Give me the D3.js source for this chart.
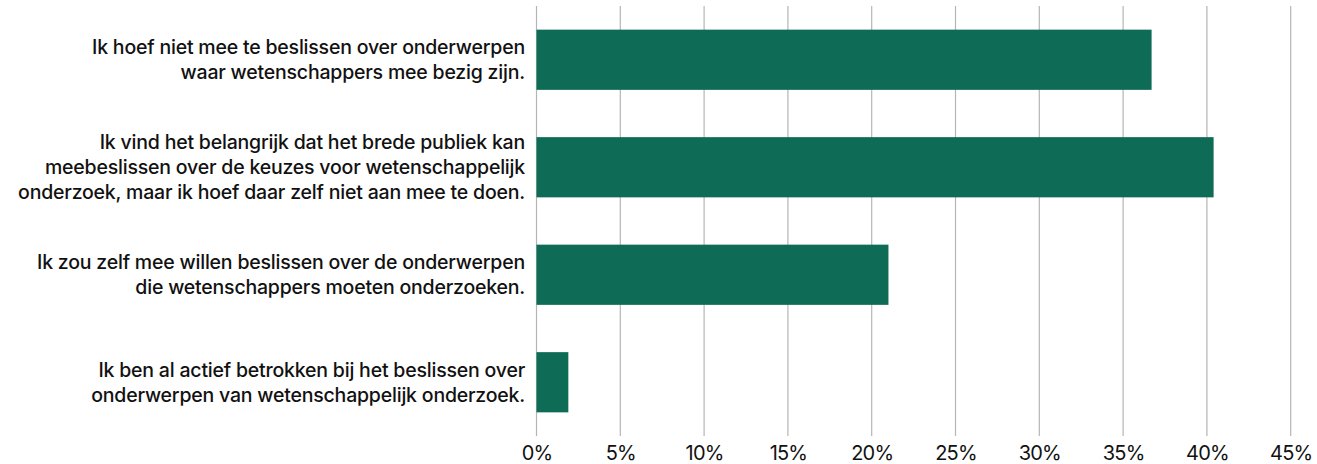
<!DOCTYPE html>
<html>
<head>
<meta charset="utf-8">
<script src="https://cdn.jsdelivr.net/npm/d3@7"></script>
<style>
  html, body { margin: 0; padding: 0; background: #ffffff; }
  svg { display: block; }
  .lbl { font-family: Inter, "Noto Sans", sans-serif; font-weight: 500; font-size: 19.5px; fill: #111; letter-spacing: -0.2px; }
  .tick text { font-family: Inter, "Noto Sans", sans-serif; font-size: 20px; fill: #111; letter-spacing: -0.8px; }
</style>
</head>
<body>
<svg id="chart" width="1317" height="464"></svg>
<script>
const categories = [
  "Ik hoef niet mee te beslissen over onderwerpen\nwaar wetenschappers mee bezig zijn.",
  "Ik vind het belangrijk dat het brede publiek kan\nmeebeslissen over de keuzes voor wetenschappelijk\nonderzoek, maar ik hoef daar zelf niet aan mee te doen.",
  "Ik zou zelf mee willen beslissen over de onderwerpen\ndie wetenschappers moeten onderzoeken.",
  "Ik ben al actief betrokken bij het beslissen over\nonderwerpen van wetenschappelijk onderzoek."
];
const values = [36.7, 40.4, 21.0, 1.9];
const tickValues = [0, 5, 10, 15, 20, 25, 30, 35, 40, 45];

const svg = d3.select("#chart");
const plotLeft = 536.5, plotRight = 1290.7, plotTop = 6, plotBottom = 436;

const x = d3.scaleLinear().domain([0, 45]).range([plotLeft, plotRight]);
const y = d3.scaleBand().domain(categories).range([plotTop, plotBottom]).paddingInner(0.44).paddingOuter(0.22);

// gridlines
svg.append("g").selectAll("line").data(tickValues).join("line")
  .attr("x1", d => x(d)).attr("x2", d => x(d))
  .attr("y1", plotTop).attr("y2", plotBottom)
  .attr("stroke", "#b5b5b5").attr("stroke-width", 1.2);

// bars
svg.append("g").selectAll("rect").data(values).join("rect")
  .attr("x", x(0))
  .attr("y", (d, i) => y(categories[i]))
  .attr("width", d => x(d) - x(0))
  .attr("height", y.bandwidth())
  .attr("fill", "#0e6b56");

// x axis tick labels
const xAxis = d3.axisBottom(x).tickValues(tickValues).tickFormat(d => d + "%").tickSize(0).tickPadding(0);
const gx = svg.append("g").attr("transform", `translate(0, ${plotBottom + 10})`).call(xAxis);
gx.select(".domain").remove();
gx.selectAll(".tick text").attr("dy", "0.71em");
gx.attr("font-size", null).attr("font-family", null);

// category labels
const lineH = 25;
const lg = svg.append("g");
categories.forEach((c, i) => {
  const lines = c.split("\n");
  const cy = y(c) + y.bandwidth() / 2;
  const t = lg.append("text").attr("class", "lbl").attr("text-anchor", "end")
    .attr("x", 525);
  lines.forEach((ln, j) => {
    t.append("tspan").attr("x", 525)
      .attr("y", cy + (j - (lines.length - 1) / 2) * lineH)
      .attr("dy", "0.35em").text(ln);
  });
});
</script>
</body>
</html>
